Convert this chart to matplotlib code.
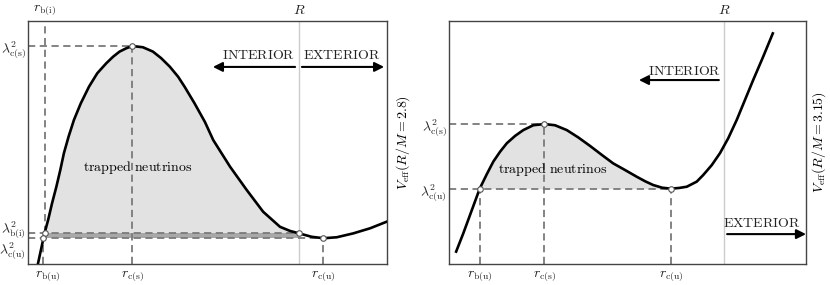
import matplotlib.pyplot as plt
import matplotlib.transforms as mtransforms
import numpy as np

plt.rcParams['mathtext.fontset'] = 'cm'
plt.rcParams['font.family'] = 'serif'

# ---- left panel: R/M = 2.8 (arbitrary units 0-10)
r_left = [0.28, 0.46, 0.56, 0.67, 0.79, 0.90, 1.00, 1.13, 1.28, 1.47, 1.70, 1.93,
          2.18, 2.37, 2.55, 2.74, 2.91, 3.20, 3.48, 3.71, 3.95, 4.18, 4.36, 4.64,
          4.93, 5.16, 5.63, 6.09, 6.55, 7.02, 7.30, 7.55, 7.90, 8.23, 8.60, 9.06,
          9.53, 9.99]
V_left = [0.03, 1.26, 1.81, 2.50, 3.18, 3.87, 4.56, 5.24, 5.93, 6.61, 7.30, 7.85,
          8.26, 8.53, 8.74, 8.88, 8.97, 8.92, 8.74, 8.47, 8.12, 7.71, 7.30, 6.61,
          5.84, 5.10, 4.00, 3.05, 2.15, 1.53, 1.36, 1.26, 1.12, 1.06, 1.10, 1.26,
          1.47, 1.74]
lam_cs_L, lam_bi_L, lam_cu_L = 8.97, 1.26, 1.06
r_bi_L, r_bu_L, r_cs_L, r_cu_L, R_L = 0.46, 0.43, 2.91, 8.23, 7.55

# ---- right panel: R/M = 3.15
r_right = [0.20, 0.40, 0.64, 0.86, 1.06, 1.24, 1.43, 1.62, 1.85, 2.08, 2.36, 2.67,
           2.97, 3.30, 3.62, 3.95, 4.28, 4.60, 4.88, 5.26, 5.50, 5.72, 5.97, 6.22,
           6.45, 6.66, 6.94, 7.12, 7.36, 7.59, 7.82, 8.06, 8.29, 8.52, 8.80, 9.07]
V_right = [0.51, 1.26, 2.22, 3.10, 3.70, 4.21, 4.62, 4.97, 5.27, 5.51, 5.71, 5.76,
           5.71, 5.51, 5.21, 4.86, 4.49, 4.14, 3.91, 3.59, 3.40, 3.25, 3.14, 3.10,
           3.13, 3.18, 3.39, 3.66, 4.07, 4.56, 5.17, 5.93, 6.75, 7.57, 8.53, 9.49]
lam_cs_R, lam_cu_R = 5.76, 3.10
r_bu_R, r_cs_R, r_cu_R, R_R = 0.86, 2.67, 6.22, 7.70

dash = dict(color='#7a7a7a', lw=1.3, ls=(0, (4, 2.5)), zorder=2)
pt = dict(marker='o', ls='none', ms=4, mfc='white', mec='#555555', mew=0.8, zorder=6)
fs = 10

fig = plt.figure(figsize=(8.3, 2.85), dpi=100)
axL = fig.add_axes([28/830, 21/285, 359/830, 243/285])
axR = fig.add_axes([449/830, 21/285, 357/830, 243/285])

for ax in (axL, axR):
    ax.set_xlim(0, 10)
    ax.set_ylim(0, 10)
    for s in ax.spines.values():
        s.set_color('#444444')
        s.set_linewidth(1.0)
    ax.tick_params(length=0, labelsize=fs, colors='#222222', pad=3)
    ax.tick_params(axis='y', pad=1.5)

# ================= left
rl = np.array(r_left)
vl = np.array(V_left)
m = (rl >= r_bi_L) & (rl <= R_L)
axL.fill_between(rl[m], vl[m], lam_bi_L, color='#e2e2e2', lw=0, zorder=1)
axL.fill_between([r_bi_L, R_L], lam_cu_L, lam_bi_L, color='#a8a8a8', lw=0, zorder=1)
axL.axvline(R_L, color='#cccccc', lw=1.0, zorder=1)
axL.plot([0, r_cs_L], [lam_cs_L, lam_cs_L], **dash)
axL.plot([0, R_L], [lam_bi_L, lam_bi_L], **dash)
axL.plot([0, r_cu_L], [lam_cu_L, lam_cu_L], **dash)
axL.plot([r_bi_L, r_bi_L], [lam_bi_L, 10], **dash)
axL.plot([r_bu_L, r_bu_L], [0, lam_cu_L], **dash)
axL.plot([r_cs_L, r_cs_L], [0, lam_cs_L], **dash)
axL.plot([r_cu_L, r_cu_L], [0, lam_cu_L], **dash)
axL.plot(rl, vl, color='black', lw=1.9, zorder=4, solid_joinstyle='round')
axL.plot([r_bi_L, r_bu_L, r_cs_L, R_L, r_cu_L],
         [lam_bi_L, lam_cu_L, lam_cs_L, lam_bi_L, lam_cu_L], **pt)

axL.set_yticks([lam_cs_L, lam_bi_L, lam_cu_L],
               labels=[r'$\lambda^2_{\rm c(s)}$', r'$\lambda^2_{\rm b(i)}$', r'$\lambda^2_{\rm c(u)}$'])
ylabs = axL.get_yticklabels()
ylabs[1].set_transform(ylabs[1].get_transform() + mtransforms.ScaledTranslation(0, 8/100, fig.dpi_scale_trans))
ylabs[2].set_transform(ylabs[2].get_transform() + mtransforms.ScaledTranslation(0, -9/100, fig.dpi_scale_trans))
axL.set_xticks([r_bu_L, r_cs_L, r_cu_L],
               labels=[r'$r_{\rm b(u)}$', r'$r_{\rm c(s)}$', r'$r_{\rm c(u)}$'])
xlabs = axL.get_xticklabels()
xlabs[0].set_transform(xlabs[0].get_transform() + mtransforms.ScaledTranslation(4/100, 0, fig.dpi_scale_trans))
topL = axL.secondary_xaxis('top')
topL.set_xticks([r_bi_L, R_L], labels=[r'$r_{\rm b(i)}$', r'$R$'])
topL.tick_params(length=0, labelsize=fs, colors='#222222', pad=3)
topL.spines['top'].set_visible(False)

axL.text(3.06, 3.99, r'$\mathrm{trapped\ neutrinos}$', ha='center', va='center', fontsize=fs)
axL.text(6.41, 8.60, r'$\mathrm{INTERIOR}$', ha='center', va='center', fontsize=fs, color='#222222')
axL.text(8.75, 8.60, r'$\mathrm{EXTERIOR}$', ha='center', va='center', fontsize=fs, color='#222222')
arr = dict(arrowstyle='-|>', color='black', lw=1.5, mutation_scale=14, shrinkA=0, shrinkB=0)
axL.annotate('', xy=(5.15, 8.11), xytext=(7.44, 8.11), arrowprops=arr)
axL.annotate('', xy=(9.92, 8.11), xytext=(7.63, 8.11), arrowprops=arr)
axL.text(1.045, 0.5, r'$V_{\rm eff}(R/M=2.8)$', transform=axL.transAxes,
         rotation=90, ha='center', va='center', fontsize=fs)

# ================= right
rr = np.array(r_right)
vr = np.array(V_right)
m = (rr >= r_bu_R) & (rr <= r_cu_R)
axR.fill_between(rr[m], vr[m], lam_cu_R, color='#e2e2e2', lw=0, zorder=1)
axR.axvline(R_R, color='#cccccc', lw=1.0, zorder=1)
axR.plot([0, r_cs_R], [lam_cs_R, lam_cs_R], **dash)
axR.plot([0, r_cu_R], [lam_cu_R, lam_cu_R], **dash)
axR.plot([r_bu_R, r_bu_R], [0, lam_cu_R], **dash)
axR.plot([r_cs_R, r_cs_R], [0, lam_cs_R], **dash)
axR.plot([r_cu_R, r_cu_R], [0, lam_cu_R], **dash)
axR.plot(rr, vr, color='black', lw=1.9, zorder=4, solid_joinstyle='round')
axR.plot([r_bu_R, r_cs_R, r_cu_R], [lam_cu_R, lam_cs_R, lam_cu_R], **pt)

axR.set_yticks([lam_cs_R, lam_cu_R],
               labels=[r'$\lambda^2_{\rm c(s)}$', r'$\lambda^2_{\rm c(u)}$'])
axR.set_xticks([r_bu_R, r_cs_R, r_cu_R],
               labels=[r'$r_{\rm b(u)}$', r'$r_{\rm c(s)}$', r'$r_{\rm c(u)}$'])
topR = axR.secondary_xaxis('top')
topR.set_xticks([R_R], labels=[r'$R$'])
topR.tick_params(length=0, labelsize=fs, colors='#222222', pad=3)
topR.spines['top'].set_visible(False)

axR.text(2.91, 3.87, r'$\mathrm{trapped\ neutrinos}$', ha='center', va='center', fontsize=fs)
axR.text(6.61, 7.94, r'$\mathrm{INTERIOR}$', ha='center', va='center', fontsize=fs, color='#222222')
axR.text(8.77, 1.69, r'$\mathrm{EXTERIOR}$', ha='center', va='center', fontsize=fs, color='#222222')
axR.annotate('', xy=(5.32, 7.57), xytext=(7.56, 7.57), arrowprops=arr)
axR.annotate('', xy=(10.0, 1.23), xytext=(7.79, 1.23), arrowprops=arr)
axR.text(1.037, 0.5, r'$V_{\rm eff}(R/M=3.15)$', transform=axR.transAxes,
         rotation=90, ha='center', va='center', fontsize=fs)

fig.savefig('out.png', dpi=100)
